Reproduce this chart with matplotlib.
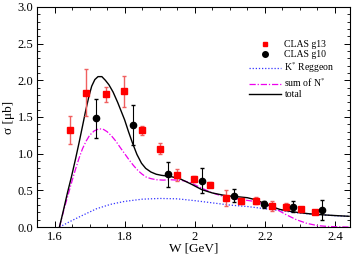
import numpy as np
import matplotlib.pyplot as plt
from matplotlib.ticker import MultipleLocator, FormatStrFormatter, FuncFormatter
from matplotlib.lines import Line2D

plt.rcParams['font.family'] = ['Liberation Serif', 'DejaVu Serif']
plt.rcParams['mathtext.fontset'] = 'stix'

# CLAS g13 data
w_g13 = [1.645, 1.690, 1.746, 1.798, 1.850, 1.900, 1.949, 1.997, 2.043, 2.089,
         2.133, 2.176, 2.219, 2.260, 2.302, 2.343]
s_g13 = [1.32, 1.83, 1.81, 1.85, 1.32, 1.07, 0.71, 0.65, 0.58, 0.40,
         0.36, 0.36, 0.29, 0.28, 0.24, 0.21]
e_g13 = [0.19, 0.32, 0.10, 0.21, 0.06, 0.08, 0.08, 0.04, 0.03, 0.11,
         0.04, 0.05, 0.07, 0.05, 0.03, 0.02]

# CLAS g10 data
w_g10 = [1.719, 1.825, 1.924, 2.020, 2.111, 2.198, 2.281, 2.364]
s_g10 = [1.48, 1.39, 0.72, 0.63, 0.43, 0.31, 0.28, 0.23]
e_g10 = [0.27, 0.27, 0.17, 0.17, 0.09, 0.05, 0.08, 0.14]

# model curves
w_tot = [1.614, 1.625, 1.637, 1.648, 1.660, 1.670, 1.680, 1.689, 1.698, 1.706,
         1.715, 1.724, 1.735, 1.745, 1.755, 1.767, 1.780, 1.790, 1.800, 1.811,
         1.822, 1.835, 1.848, 1.860, 1.875, 1.890, 1.905, 1.930, 1.957, 1.990,
         2.020, 2.050, 2.081, 2.105, 2.129, 2.150, 2.167, 2.185, 2.205, 2.225,
         2.243, 2.271, 2.300, 2.329, 2.365, 2.400, 2.440]
s_tot = [0.0, 0.22, 0.47, 0.68, 0.93, 1.15, 1.38, 1.59, 1.78, 1.92,
         2.01, 2.05, 2.05, 2.00, 1.94, 1.84, 1.70, 1.58, 1.46, 1.30,
         1.15, 0.99, 0.87, 0.80, 0.75, 0.72, 0.705, 0.69, 0.66, 0.585,
         0.51, 0.465, 0.435, 0.42, 0.41, 0.40, 0.38, 0.35, 0.31, 0.27,
         0.24, 0.215, 0.195, 0.18, 0.167, 0.157, 0.147]

w_nst = [1.614, 1.627, 1.640, 1.650, 1.660, 1.670, 1.680, 1.690, 1.700, 1.713,
         1.727, 1.740, 1.750, 1.763, 1.775, 1.788, 1.800, 1.812, 1.825, 1.838,
         1.850, 1.862, 1.875, 1.890, 1.910, 1.930, 1.950, 1.970, 1.990, 2.020,
         2.050, 2.080, 2.110, 2.140, 2.170, 2.200, 2.230, 2.260, 2.290, 2.320,
         2.350, 2.380, 2.440]
s_nst = [0.0, 0.24, 0.46, 0.63, 0.79, 0.94, 1.07, 1.17, 1.25, 1.31,
         1.34, 1.33, 1.30, 1.24, 1.17, 1.08, 1.00, 0.92, 0.84, 0.77,
         0.72, 0.68, 0.66, 0.645, 0.64, 0.645, 0.64, 0.63, 0.60, 0.53,
         0.465, 0.42, 0.39, 0.37, 0.35, 0.31, 0.25, 0.17, 0.10, 0.05,
         0.02, 0.008, 0.0]

w_reg = [1.614, 1.630, 1.650, 1.680, 1.720, 1.760, 1.800, 1.850, 1.900, 1.950,
         2.000, 2.050, 2.100, 2.150, 2.200, 2.250, 2.300, 2.350, 2.400, 2.440]
s_reg = [0.0, 0.04, 0.09, 0.16, 0.25, 0.31, 0.35, 0.38, 0.39, 0.385,
         0.36, 0.33, 0.30, 0.28, 0.25, 0.22, 0.19, 0.17, 0.155, 0.145]

fig = plt.figure(figsize=(3.54, 2.56), dpi=100)
ax = fig.add_axes([0.1045, 0.113, 0.8845, 0.86])

ax.plot(w_reg, s_reg, color='#3333ff', ls=(0, (1, 1.5)), lw=0.9)
ax.plot(w_nst, s_nst, color='#ee00ee', ls=(0, (5, 1.5, 1, 1.5)), lw=0.9)
ax.plot(w_tot, s_tot, color='black', lw=1.0)

ax.errorbar(w_g13, s_g13, yerr=e_g13, fmt='s', color='red', ms=4, ecolor='#f06060',
            elinewidth=1.0, capsize=1.5)
ax.errorbar(w_g10, s_g10, yerr=e_g10, fmt='o', color='black', ms=4.5, ecolor='black',
            elinewidth=0.8, capsize=1.5)

ax.set_xlim(1.55, 2.443)
ax.set_ylim(0, 3.0)
ax.xaxis.set_major_locator(MultipleLocator(0.2))
ax.xaxis.set_minor_locator(MultipleLocator(0.05))
ax.yaxis.set_major_locator(MultipleLocator(0.5))
ax.yaxis.set_minor_locator(MultipleLocator(0.1))
ax.xaxis.set_major_formatter(FuncFormatter(lambda v, p: '%g' % round(v, 2)))
ax.yaxis.set_major_formatter(FormatStrFormatter('%.1f'))
ax.tick_params(which='both', direction='in', top=True, right=True, labelsize=9, pad=2.5)
ax.tick_params(which='major', length=4, width=0.7)
ax.tick_params(which='minor', length=2, width=0.6)
for s in ax.spines.values():
    s.set_linewidth(0.8)

ax.set_xlabel('W [GeV]', fontsize=9.5, labelpad=0)
ax.set_ylabel('σ [μb]', fontsize=9.5, labelpad=2)

handles = [
    Line2D([], [], ls='none', marker='s', color='red', ms=3.5),
    Line2D([], [], ls='none', marker='o', color='black', ms=4),
    Line2D([], [], color='#3333ff', ls=(0, (1, 1.5)), lw=0.9),
    Line2D([], [], color='#ee00ee', ls=(0, (5, 1.5, 1, 1.5)), lw=0.9),
    Line2D([], [], color='black', lw=1.0),
]
labels = ['CLAS g13', 'CLAS g10', 'K$^{*}$ Reggeon', 'sum of N$^{*}$', 'total']
ax.legend(handles, labels, loc='upper left',
          bbox_to_anchor=(0.66, 0.87), frameon=False, fontsize=7,
          handlelength=3.3, handletextpad=0.4, labelspacing=0.1, borderpad=0)

plt.savefig('out.png')
